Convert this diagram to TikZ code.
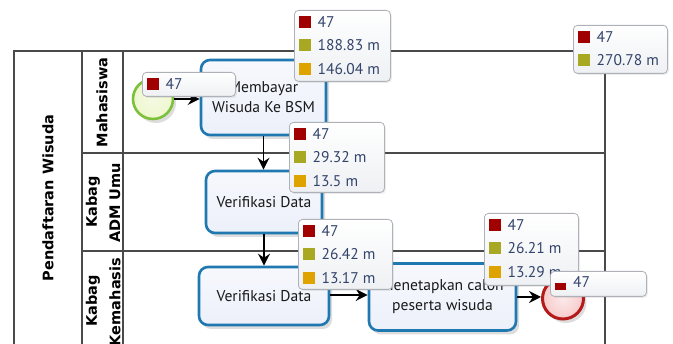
\documentclass[tikz,border=0pt]{standalone}
\usepackage{fontspec}
\setmainfont{PT Sans}
\newfontfamily\lanefont{DejaVu Sans}
\usetikzlibrary{arrows.meta,shadows,calc}

\definecolor{poolline}{HTML}{4A4A4A}
\definecolor{taskborder}{HTML}{1F78B0}
\definecolor{taskfill}{HTML}{ECF0FA}
\definecolor{startborder}{HTML}{7DC03C}
\definecolor{startfill}{HTML}{EEF7CF}
\definecolor{endborder}{HTML}{B51A1A}
\definecolor{endfill}{HTML}{F7CACA}
\definecolor{statred}{HTML}{A00000}
\definecolor{statolive}{HTML}{A8A822}
\definecolor{statorange}{HTML}{DFA300}
\definecolor{stattext}{HTML}{33446B}
\definecolor{statborder}{HTML}{AEB2B8}
\definecolor{statfill}{HTML}{EEF0F3}

\tikzset{
  pool/.style={draw=poolline, line width=1.2pt},
  lanelabel/.style={rotate=90, inner sep=0pt, text=black,
    font=\lanefont\bfseries\fontsize{14.5}{17}\selectfont},
  softshadow/.style={drop shadow={shadow xshift=3pt, shadow yshift=-4pt,
    opacity=.22, fill=black!60}},
  task/.style={draw=taskborder, line width=2.6pt, rounded corners=9pt,
    top color=white!55!taskfill, bottom color=taskfill, softshadow,
    align=center, text=black!90, font=\fontsize{15.6}{20}\selectfont},
  startev/.style={circle, draw=startborder, line width=2.6pt,
    inner color=startfill!60!white, outer color=startfill, softshadow,
    minimum size=40pt, inner sep=0pt},
  endev/.style={circle, draw=endborder, line width=3pt,
    inner color=endfill!40!white, outer color=endfill, softshadow,
    minimum size=41pt, inner sep=0pt},
  flow/.style={-{Stealth[length=12pt,width=12pt,inset=4pt]},
    line width=1.3pt, black},
  statbox/.style={draw=statborder, line width=0.8pt, rounded corners=4pt,
    top color=white, bottom color=statfill, anchor=north west, inner sep=0pt,
    drop shadow={shadow xshift=1.5pt, shadow yshift=-1.5pt, opacity=.15}},
  statsq/.style={minimum size=12pt, inner sep=0pt},
  stattxt/.style={anchor=west, inner sep=0pt, text=stattext,
    font=\fontsize{15.5}{18}\selectfont},
}

% one callout box: name, left, top, width, height
\newcommand\statbox[5]{%
  \node[statbox, minimum width=#4pt, minimum height=#5pt] (#1) at (#2,#3) {};}
% one row of a callout: box name, row index, colour, text
\newcommand\statrow[4]{%
  \node[statsq, fill=#3] (#1-sq#2) at ($(#1.north west)+(11,{12+23.5*(#2-1)})$) {};
  \node[stattxt] (#1-tx#2) at ($(#1.north west)+(23.5,{12+23.5*(#2-1)})$) {#4};}

\begin{document}
\begin{tikzpicture}[x=1pt,y=-1pt]
\useasboundingbox (0,0) rectangle (673,344);

% pool and lanes
\draw[pool] (14,360) -- (14,51) -- (605,51) -- (605,360);
\draw[pool] (82,51) -- (82,360);
\draw[pool] (123,51) -- (123,360);
\draw[pool] (82,153) -- (605,153);
\draw[pool] (82,251) -- (605,251);

\node[lanelabel] (poolname) at (48,198) {Pendaftaran Wisuda};
\node[lanelabel] (lane1) at (102,102.5) {Mahasiswa};
\node[lanelabel] (lane2a) at (93,202) {Kabag};
\node[lanelabel] (lane2b) at (115,203) {ADM Umu};
\node[lanelabel] (lane3a) at (93,301) {Kabag};
\node[lanelabel] (lane3b) at (115,302) {Kemahasis};

% flow elements
\node[startev] (start) at (153,99) {};
\node[task, minimum width=125pt, minimum height=75pt] (t1) at (263.5,97.5)
  {Membayar\\Wisuda Ke BSM};
\node[task, minimum width=116pt, minimum height=62pt] (t2) at (264,202)
  {Verifikasi Data};
\node[task, minimum width=130pt, minimum height=58pt] (t3) at (264,296)
  {Verifikasi Data};
\node[task, minimum width=147pt, minimum height=67pt] (t4) at (442.5,297)
  {Menetapkan calon\\peserta wisuda};
\node[endev] (finish) at (563,298.5) {};

% sequence flows
\draw[flow] (start.east) -- (start.east -| t1.west);
\draw[flow] (t1.south) -- (t1.south |- t2.north);
\draw[flow] (t2.south) -- (t2.south |- t3.north);
\draw[flow] ($(t3.east)+(0,-1)$) -- ($(t3.east -| t4.west)+(0,-1)$);
\draw[flow] (t4.east) -- (t4.east -| finish.west);

% statistics callouts
\statbox{sA}{142}{72}{93}{24}
\statrow{sA}{1}{statred}{47}

\statbox{sB}{294}{10}{96}{71}
\statrow{sB}{1}{statred}{47}
\statrow{sB}{2}{statolive}{188.83 m}
\statrow{sB}{3}{statorange}{146.04 m}

\statbox{sC}{289}{122}{95}{70}
\statrow{sC}{1}{statred}{47}
\statrow{sC}{2}{statolive}{29.32 m}
\statrow{sC}{3}{statorange}{13.5 m}

\statbox{sD}{298}{219}{94}{70}
\statrow{sD}{1}{statred}{47}
\statrow{sD}{2}{statolive}{26.42 m}
\statrow{sD}{3}{statorange}{13.17 m}

\statbox{sE}{484}{213}{94}{72}
\statrow{sE}{1}{statred}{47}
\statrow{sE}{2}{statolive}{26.21 m}
\statrow{sE}{3}{statorange}{13.29 m}

\statbox{sF}{550}{271}{96}{25}
\node[fill=statred, minimum width=11pt, minimum height=7pt, inner sep=0pt]
  (sF-sq1) at (560.5,286.5) {};
\node[stattxt] (sF-tx1) at ($(sF.north west)+(23,11)$) {47};

\statbox{sG}{573}{25}{94}{48}
\statrow{sG}{1}{statred}{47}
\statrow{sG}{2}{statolive}{270.78 m}
\end{tikzpicture}
\end{document}
